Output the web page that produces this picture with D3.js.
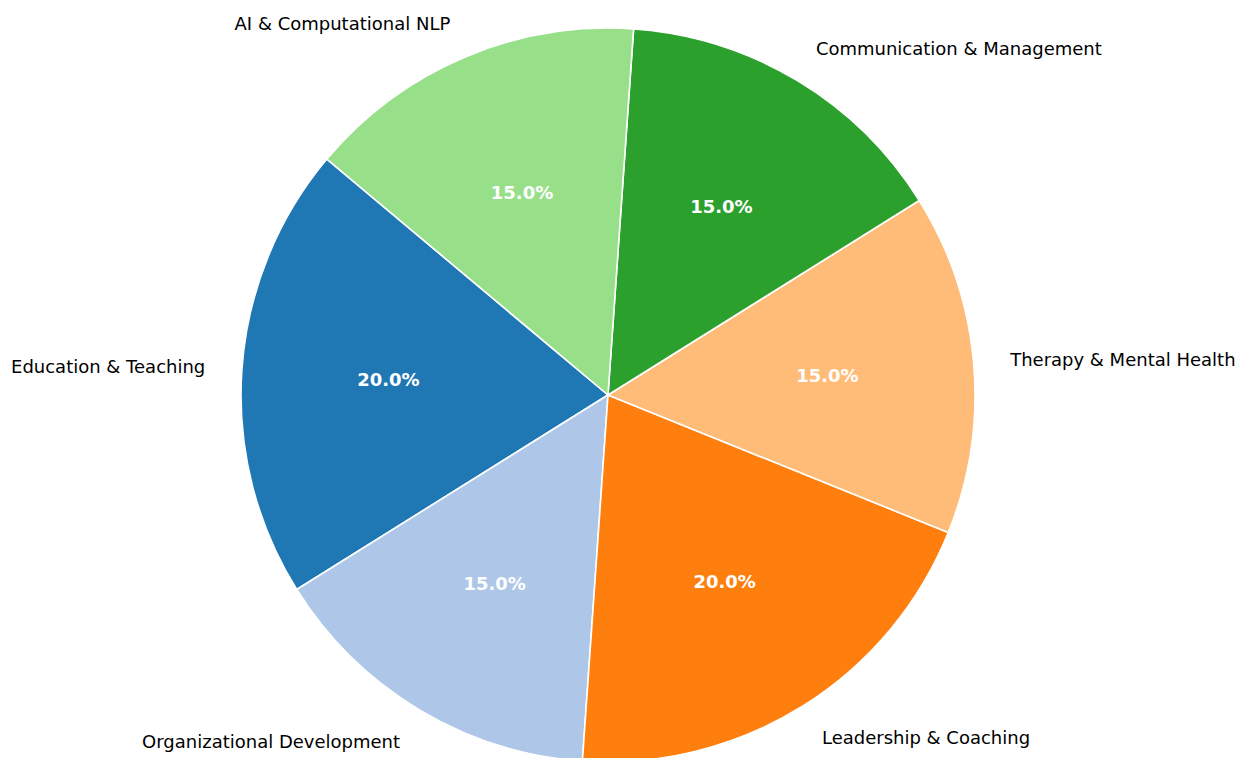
<!DOCTYPE html>
<html>
<head>
<meta charset="utf-8">
<script src="https://cdn.jsdelivr.net/npm/d3@7"></script>
<style>
  html, body { margin: 0; padding: 0; background: #fff; }
  svg { display: block; font-family: "DejaVu Sans", sans-serif; }
</style>
</head>
<body>
<div id="chart"></div>
<script>
const categories = [
  "Education & Teaching",
  "Organizational Development",
  "Leadership & Coaching",
  "Therapy & Mental Health",
  "Communication & Management",
  "AI & Computational NLP"
]
const shares = [20, 15, 20, 15, 15, 15]
const colors = ["#1f77b4", "#aec7e8", "#ff7f0e", "#ffbb78", "#2ca02c", "#98df8a"]

const width = 1237
const height = 758
const cx = 608, cy = 395, radius = 367
const startAngle = 140 // degrees, counterclockwise from 3 o'clock (matplotlib style)

const svg = d3.select("#chart").append("svg")
  .attr("width", width)
  .attr("height", height)

const g = svg.append("g").attr("transform", `translate(${cx},${cy})`)

// matplotlib draws counterclockwise from startangle; d3 angles go clockwise from 12 o'clock
const toD3 = deg => (90 - deg) * Math.PI / 180
const pie = d3.pie().sort(null)
  .startAngle(toD3(startAngle))
  .endAngle(toD3(startAngle) - 2 * Math.PI)
const arcs = pie(shares)

const arc = d3.arc().innerRadius(0).outerRadius(radius)

g.selectAll("path")
  .data(arcs)
  .join("path")
  .attr("d", arc)
  .attr("fill", (d, i) => colors[i])
  .attr("stroke", "#fff")
  .attr("stroke-width", 1.6)
  .attr("stroke-linejoin", "round")

const total = d3.sum(shares)
const midPos = (d, dist) => {
  const a = (d.startAngle + d.endAngle) / 2
  return [Math.sin(a) * radius * dist, -Math.cos(a) * radius * dist]
}

// percentage labels
g.selectAll("text.pct")
  .data(arcs)
  .join("text")
  .attr("class", "pct")
  .attr("x", d => midPos(d, 0.6)[0])
  .attr("y", d => midPos(d, 0.6)[1])
  .attr("text-anchor", "middle")
  .attr("dominant-baseline", "central")
  .style("font-size", "18px")
  .style("font-weight", "bold")
  .style("fill", "#fff")
  .text(d => (d.value / total * 100).toFixed(1) + "%")

// category labels
g.selectAll("text.lbl")
  .data(arcs)
  .join("text")
  .attr("class", "lbl")
  .attr("x", d => midPos(d, 1.1)[0])
  .attr("y", d => midPos(d, 1.1)[1])
  .attr("text-anchor", d => midPos(d, 1.1)[0] < 0 ? "end" : "start")
  .attr("dominant-baseline", "central")
  .style("font-size", "18px")
  .style("fill", "#000")
  .text((d, i) => categories[i])
</script>
</body>
</html>
